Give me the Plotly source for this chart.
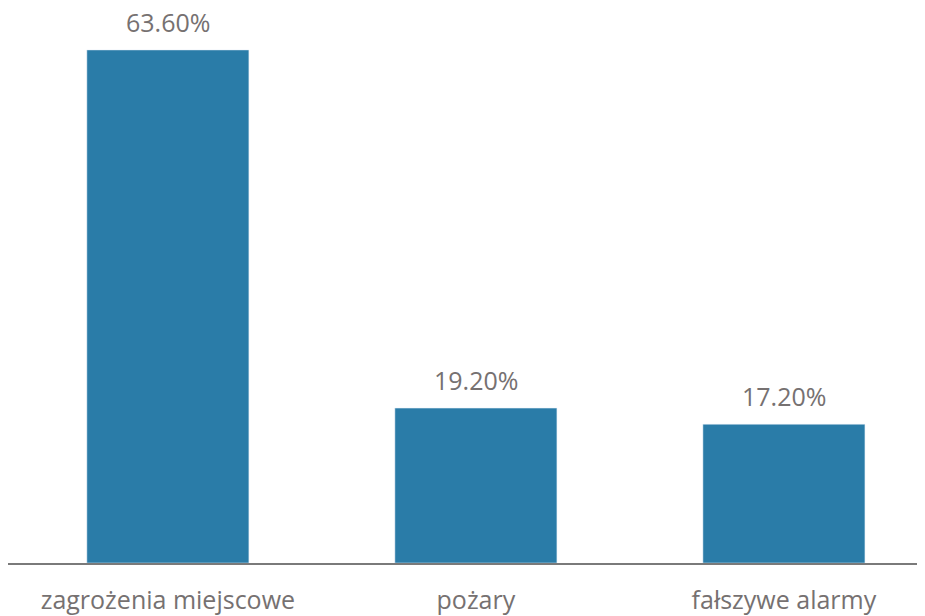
import plotly.graph_objects as go

categories = ["zagrożenia miejscowe", "pożary", "fałszywe alarmy"]
values = [63.6, 19.2, 17.2]
labels = ["63.60%", "19.20%", "17.20%"]

bar_color = "#2a7ca8"
text_color = "#767171"

fig = go.Figure()
fig.add_trace(go.Bar(
    x=categories, y=values, marker_color=bar_color, width=0.526,
    hoverinfo="skip",
))
for c, v, t in zip(categories, values, labels):
    fig.add_annotation(x=c, y=v, text=t, showarrow=False, yanchor="bottom",
                       yshift=10, borderpad=0,
                       font=dict(family="Open Sans", size=25, color=text_color))

fig.update_layout(
    width=917, height=608,
    margin=dict(l=0, r=0, t=0, b=53),
    paper_bgcolor="white", plot_bgcolor="white",
    showlegend=False,
    xaxis=dict(range=[-0.519, 2.458], showline=True, linecolor="#7a7a7a", linewidth=2,
               tickfont=dict(family="Open Sans", size=25, color=text_color),
               ticks="", ticklabelstandoff=14, showgrid=False, automargin=False),
    yaxis=dict(range=[0, 68.8], visible=False, showgrid=False),
)
fig.write_html("out.html")
